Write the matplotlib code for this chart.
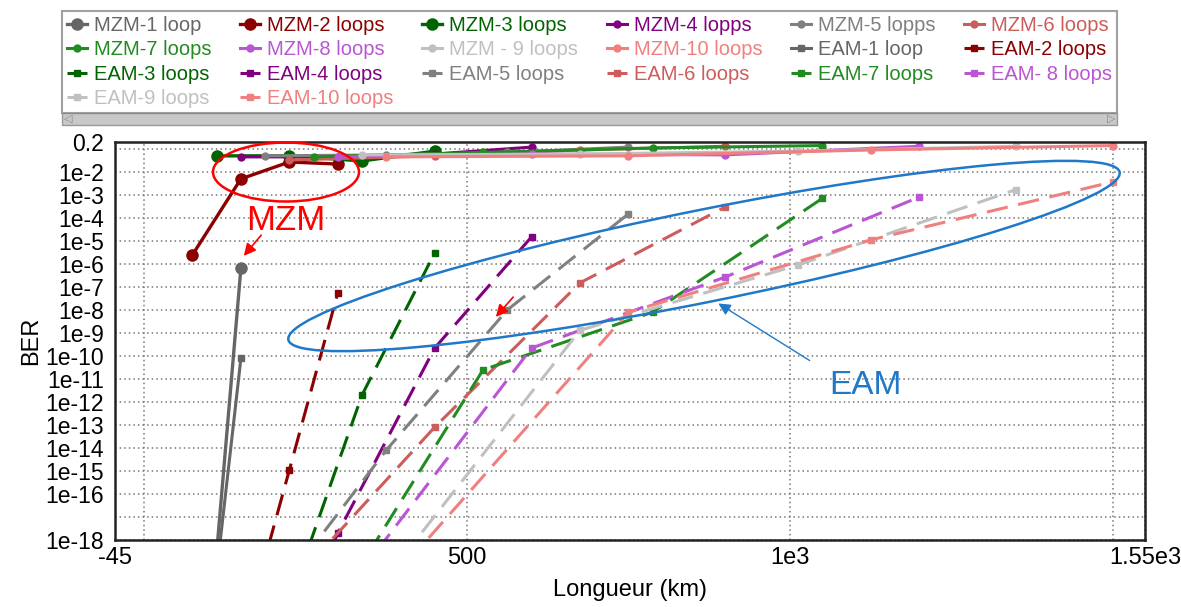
import matplotlib.pyplot as plt
from matplotlib.patches import Ellipse, Rectangle
from matplotlib.transforms import IdentityTransform

plt.rcParams['font.family'] = ['Liberation Sans', 'DejaVu Sans']

# series names and colours (one colour per loop count)
mzm_labels = ['MZM-1 loop', 'MZM-2 loops', 'MZM-3 loops', 'MZM-4 lopps', 'MZM-5 lopps',
              'MZM-6 loops', 'MZM-7 loops', 'MZM-8 loops', 'MZM - 9 loops', 'MZM-10 loops']
eam_labels = ['EAM-1 loop', 'EAM-2 loops', 'EAM-3 loops', 'EAM-4 loops', 'EAM-5 loops',
              'EAM-6 loops', 'EAM-7 loops', 'EAM- 8 loops', 'EAM-9 loops', 'EAM-10 loops']
colors = ['#666666', '#8b0000', '#006400', '#800080', '#808080',
          '#cd5c5c', '#228b22', '#ba55d3', '#c0c0c0', '#f08080']

# lengths (km) and BER
mzm_km = [[37.5, 75, 112.5, 150], [75, 150, 225, 300], [112.5, 225, 337.5, 450],
          [150, 300, 450, 600], [187.5, 375, 562.5, 750], [225, 450, 675, 900],
          [262.5, 525, 787.5, 1050], [300, 600, 900, 1200], [337.5, 675, 1012.5, 1350],
          [375, 750, 1125, 1500]]
mzm_ber = [[1e-40, 1e-30, 3e-19, 6.7e-7], [2.5e-6, 5e-3, 2.7e-2, 2.2e-2],
           [0.05, 0.05, 0.03, 0.08], [0.045, 0.045, 0.06, 0.12], [0.05, 0.055, 0.07, 0.12],
           [0.033, 0.05, 0.09, 0.13], [0.045, 0.07, 0.11, 0.14], [0.045, 0.06, 0.055, 0.13],
           [0.055, 0.06, 0.08, 0.13], [0.045, 0.05, 0.09, 0.14]]

eam_km = mzm_km
eam_ber = [[1e-40, 1e-30, 4e-20, 8e-11], [1e-32, 2.5e-23, 1.1e-15, 5.5e-8],
           [1e-30, 2e-21, 2e-12, 3e-6], [1e-28, 2e-18, 2.2e-10, 1.5e-5],
           [1e-21, 8e-15, 1e-8, 1.5e-4], [1e-20, 8e-14, 1.5e-7, 3e-4],
           [4e-23, 2.5e-11, 8e-9, 7e-4], [2e-21, 2.2e-10, 2.7e-7, 8e-4],
           [1e-21, 1.3e-9, 9e-7, 1.7e-3], [1e-20, 8e-9, 1.1e-5, 3.7e-3]]

# ticks (grid lines at 0 and 1500 km, and at 1e-1 and 1e-17, carry no label)
xtick_vals = [-45, 0, 500, 1000, 1500, 1550]
xtick_labels = ['-45', '', '500', '1e3', '', '1.55e3']
ytick_vals = [0.2] + [10.0 ** -k for k in range(1, 19)]
ytick_labels = ['0.2', ''] + ['1e-%d' % k for k in range(2, 17)] + ['', '1e-18']

W, H = 1181, 607
fig = plt.figure(figsize=(W / 100, H / 100), dpi=100)
ax = fig.add_axes([115 / W, 1 - 540 / H, 1030 / W, 398 / H])

handles = []
for i in range(10):
    big = i < 3
    h, = ax.plot(mzm_km[i], mzm_ber[i], '-', color=colors[i], marker='o',
                 lw=2.4 if big else 2.2, ms=8 if big else 5, zorder=4,
                 label=mzm_labels[i])
    handles.append(h)
for i in range(10):
    ls = '-' if i == 0 else (0, (7, 3.5))
    h, = ax.plot(eam_km[i], eam_ber[i], color=colors[i], marker='s', ls=ls,
                 lw=2.2, ms=5, zorder=3, label=eam_labels[i])
    handles.append(h)

ax.set_yscale('log')
ax.set_xlim(-45, 1550)
ax.set_ylim(1e-18, 0.2)
ax.set_xticks(xtick_vals)
ax.set_xticklabels(xtick_labels)
ax.set_yticks(ytick_vals)
ax.set_yticklabels(ytick_labels)
ax.minorticks_off()
ax.tick_params(which='both', length=0)
ax.tick_params(axis='y', labelsize=16.5, pad=8)
ax.tick_params(axis='x', labelsize=17, pad=5)
ax.grid(ls=(0, (1, 2)), color='#777777', lw=1.1)
ax.yaxis.get_gridlines()[0].set_visible(False)
for s in ax.spines.values():
    s.set_linewidth(1.8)
    s.set_color('#222222')
    s.set_zorder(5)
ax.set_xlabel('Longueur (km)', fontsize=17, labelpad=7)
ax.set_ylabel('BER', fontsize=17, labelpad=2)

# legend filled row by row like the original
order = []
for c in range(6):
    order += list(range(c, 20, 6))
leg = fig.legend([handles[k] for k in order], [handles[k].get_label() for k in order],
                 ncol=6, loc='upper left', mode='expand',
                 bbox_to_anchor=(62 / W, 1 - 112 / H, 1055 / W, 101 / H),
                 fontsize=14.5, labelcolor='linecolor', handlelength=1.0,
                 handletextpad=0.35, labelspacing=0.27, borderpad=0.25,
                 borderaxespad=0, fancybox=False, edgecolor='#888888',
                 columnspacing=0.4)
leg.get_frame().set_linewidth(1.5)

# fake scroll bar below the legend
fig.add_artist(Rectangle((62, H - 125), 1055, 12, transform=IdentityTransform(),
                         facecolor='#c8c8c8', edgecolor='#999999', lw=1))
fig.text(68 / W, 1 - 119 / H, '◁', fontsize=8, color='#888888', va='center', ha='center',
         family='DejaVu Sans')
fig.text(1111 / W, 1 - 119 / H, '▷', fontsize=8, color='#888888', va='center', ha='center',
         family='DejaVu Sans')

# annotations
fig.add_artist(Ellipse((286, H - 172), 146, 59, transform=IdentityTransform(),
                       fill=False, edgecolor='red', lw=1.8))
fig.add_artist(Ellipse((704, H - 256), 848, 92, angle=11.4, transform=IdentityTransform(),
                       fill=False, edgecolor='#1f78c8', lw=1.8))
ax.annotate('MZM', xy=(286, H - 220), xycoords='figure pixels', color='red',
            fontsize=25, ha='center', va='center')
ax.annotate('EAM', xy=(865, H - 385), xycoords='figure pixels', color='#1f78c8',
            fontsize=24, ha='center', va='center')
ax.annotate('', xy=(242, H - 258), xytext=(263, H - 233), xycoords='figure pixels',
            arrowprops=dict(arrowstyle='-|>', color='red', lw=1.2, mutation_scale=18))
ax.annotate('', xy=(494, H - 319), xytext=(515, H - 295), xycoords='figure pixels',
            arrowprops=dict(arrowstyle='-|>', color='red', lw=1.2, mutation_scale=18))
ax.annotate('', xy=(716, H - 302), xytext=(812, H - 362), xycoords='figure pixels',
            arrowprops=dict(arrowstyle='-|>', color='#1f78c8', lw=1.0, mutation_scale=18))

fig.savefig('out.png', dpi=100)
